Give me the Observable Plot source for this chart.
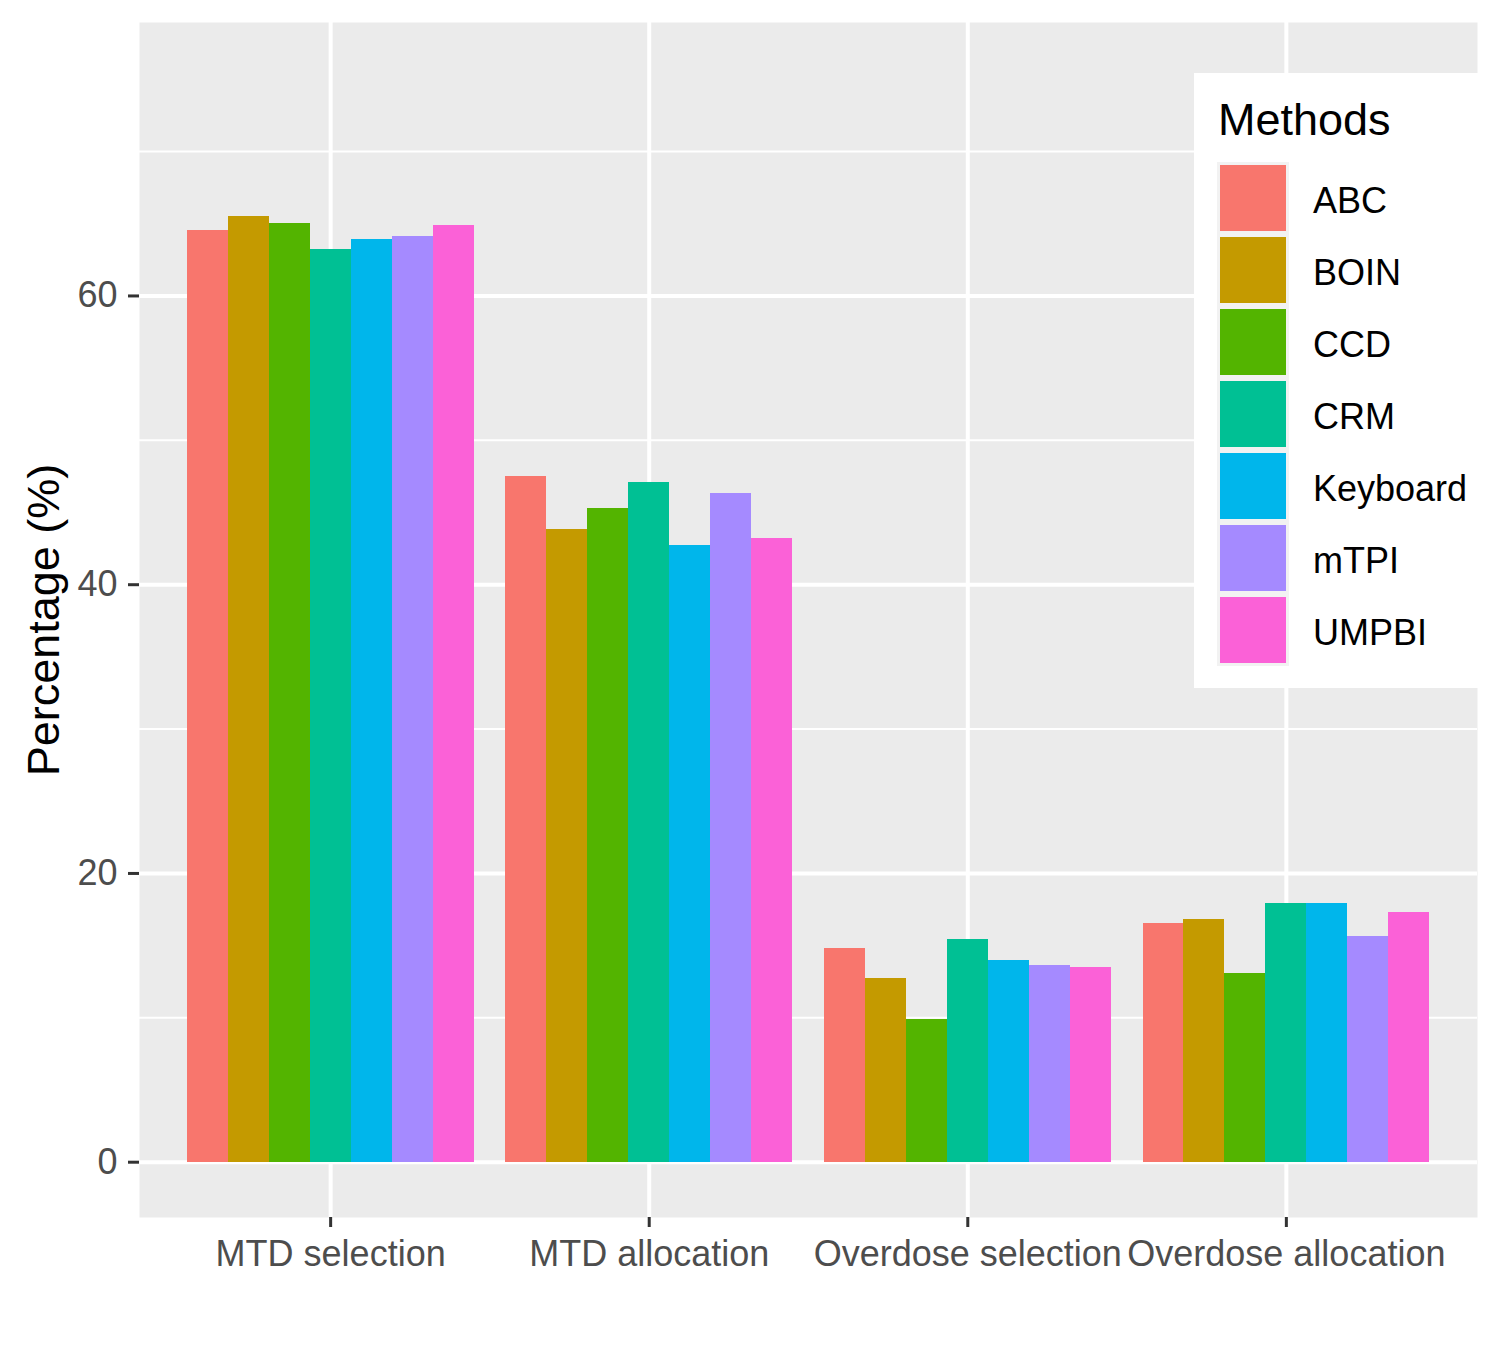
<!DOCTYPE html>
<html>
<head>
<meta charset="utf-8">
<script src="https://cdn.jsdelivr.net/npm/d3@7"></script>
<script src="https://cdn.jsdelivr.net/npm/@observablehq/plot@0.6"></script>
<style>
  html, body { margin: 0; padding: 0; background: #ffffff; }
  #wrap { position: relative; width: 1500px; height: 1350px; font-family: "Liberation Sans", Arial, sans-serif; }
  #legend { position: absolute; left: 1194px; top: 73px; width: 286px; height: 615px; background: #ffffff; }
  #legend .title { position: absolute; left: 24px; top: 24px; font-size: 45px; line-height: 45px; color: #000; white-space: nowrap; }
  #legend .rows { position: absolute; left: 23px; top: 89px; }
  #legend .row { display: flex; align-items: center; height: 72px; }
  #legend .key { width: 72px; height: 72px; background: #F2F2F2; position: relative; }
  #legend .key span { position: absolute; left: 3px; top: 3px; width: 66px; height: 66px; }
  #legend .lab { margin-left: 24px; font-size: 36px; color: #000; white-space: nowrap; position: relative; top: 3px; }
</style>
</head>
<body>
<div id="wrap"></div>
<script>
const categories = ["MTD selection", "MTD allocation", "Overdose selection", "Overdose allocation"];
const methods = ["ABC", "BOIN", "CCD", "CRM", "Keyboard", "mTPI", "UMPBI"];
const colors = ["#F8766D", "#C49A00", "#53B400", "#00C094", "#00B6EB", "#A58AFF", "#FB61D7"];

// values per method, in category order
const ABC      = [64.5, 47.5, 14.8, 16.5];
const BOIN     = [65.5, 43.8, 12.7, 16.8];
const CCD      = [65.0, 45.3,  9.9, 13.1];
const CRM      = [63.2, 47.1, 15.4, 17.9];
const Keyboard = [63.9, 42.7, 14.0, 17.9];
const mTPI     = [64.1, 46.3, 13.6, 15.6];
const UMPBI    = [64.9, 43.2, 13.5, 17.3];
const seriesValues = [ABC, BOIN, CCD, CRM, Keyboard, mTPI, UMPBI];

const yMajor = [0, 20, 40, 60];
const yMinor = [10, 30, 50, 70];

const groupWidth = 0.9;
const barW = groupWidth / methods.length;
const rows = [];
categories.forEach((c, ci) => {
  methods.forEach((m, mi) => {
    rows.push({category: c, ci: ci + 1, method: m, mi, value: seriesValues[mi][ci]});
  });
});
const catIdx = categories.map((c, i) => i + 1);

const chart = Plot.plot({
  width: 1500,
  height: 1350,
  marginTop: 22,
  marginBottom: 133,
  marginLeft: 139,
  marginRight: 23,
  style: {fontFamily: '"Liberation Sans", Arial, sans-serif', background: "#ffffff"},
  x: {domain: [0.4, 4.6]},
  y: {domain: [-3.83, 78.94]},
  color: {domain: methods, range: colors},
  marks: [
    Plot.frame({fill: "#EBEBEB", stroke: null}),
    Plot.ruleY(yMinor, {stroke: "#ffffff", strokeWidth: 2}),
    Plot.ruleY(yMajor, {stroke: "#ffffff", strokeWidth: 4}),
    Plot.ruleX(catIdx, {stroke: "#ffffff", strokeWidth: 4}),
    Plot.rectY(rows, {
      x1: d => d.ci - groupWidth / 2 + d.mi * barW,
      x2: d => d.ci - groupWidth / 2 + (d.mi + 1) * barW,
      y1: 0,
      y2: "value",
      fill: "method",
      shapeRendering: "crispEdges"
    }),
    Plot.axisY({ticks: yMajor, tickSize: 11, tickPadding: 11, fontSize: 36, stroke: "#333333", fill: "#4D4D4D", strokeWidth: 3, label: null}),
    Plot.axisX({ticks: catIdx, tickFormat: d => categories[d - 1], tickSize: 10, tickPadding: 13, fontSize: 36, stroke: "#333333", fill: "#4D4D4D", strokeWidth: 3, label: null}),
    Plot.text(["Percentage (%)"], {frameAnchor: "left", textAnchor: "middle", dx: -95, rotate: -90, fontSize: 45, fill: "#000000"})
  ]
});

const wrap = document.getElementById("wrap");
wrap.appendChild(chart);

const legend = document.createElement("div");
legend.id = "legend";
legend.innerHTML = '<div class="title">Methods</div><div class="rows">' +
  methods.map((m, i) => `<div class="row"><div class="key"><span style="background:${colors[i]}"></span></div><div class="lab">${m}</div></div>`).join("") +
  '</div>';
wrap.appendChild(legend);
</script>
</body>
</html>
